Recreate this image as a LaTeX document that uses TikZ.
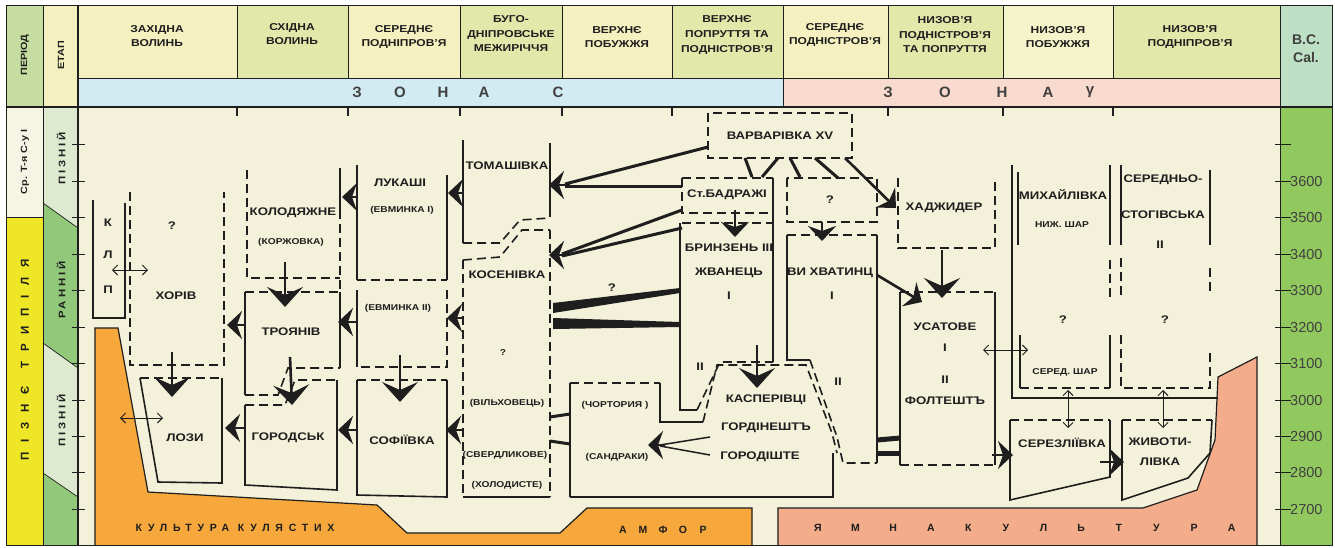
\documentclass[tikz,border=0pt]{standalone}
\usepackage{fontspec}
\setmainfont{Liberation Sans}
\newfontfamily\widefont[FakeStretch=1.2]{Liberation Sans}
\usetikzlibrary{arrows.meta}
\definecolor{ink}{RGB}{30,30,30}
\definecolor{bodybg}{RGB}{244,241,218}
\definecolor{hdra}{RGB}{244,240,191}
\definecolor{hdrb}{RGB}{226,232,170}
\definecolor{hdrc}{RGB}{245,243,202}
\definecolor{zonec}{RGB}{210,234,242}
\definecolor{zoneg}{RGB}{248,218,206}
\definecolor{perhd}{RGB}{198,220,160}
\definecolor{paleyel}{RGB}{246,244,226}
\definecolor{trypil}{RGB}{240,230,40}
\definecolor{etlight}{RGB}{222,234,208}
\definecolor{etgreen}{RGB}{146,200,122}
\definecolor{bchd}{RGB}{190,224,196}
\definecolor{bcgreen}{RGB}{146,201,95}
\definecolor{kulorange}{RGB}{246,168,60}
\definecolor{yampink}{RGB}{244,173,138}

\begin{document}
\begin{tikzpicture}[x=1pt, y=-1pt,
    frame/.style={draw=ink, line width=1pt},
    sol/.style={draw=ink, line width=1.6pt},
    dsh/.style={sol, dash pattern=on 9pt off 5pt},
    lbl/.style={inner sep=0pt, text=ink, font=\widefont\bfseries\fontsize{11}{12}\selectfont},
    sml/.style={lbl, font=\widefont\bfseries\fontsize{8.5}{10}\selectfont},
    hdr/.style={lbl, align=center, font=\widefont\bfseries\fontsize{10}{14.5}\selectfont},
    zl/.style={lbl, font=\bfseries\fontsize{15}{16}\selectfont, text=ink!85},
    yl/.style={lbl, font=\bfseries\fontsize{10.5}{12}\selectfont},
    num/.style={lbl, font=\fontsize{14.5}{15}\selectfont, text=ink!85},
    vert/.style={lbl, rotate=90, font=\widefont\bfseries\fontsize{9}{10}\selectfont},
    arr/.style={draw=ink, line width=2.6pt, -{Stealth[length=15pt,width=28pt,inset=5pt]}},
    bigarr/.style={arr, -{Stealth[length=20pt,width=36pt,inset=8pt]}},
    bar/.style={draw=ink, line width=3pt},
    dbl/.style={draw=ink, line width=0.9pt, {Straight Barb[length=5pt,width=10pt]}-{Straight Barb[length=5pt,width=10pt]}}
]
\useasboundingbox (0,0) rectangle (1335,547);

\fill[bodybg] (78,107) rectangle (1280,545);
\fill[perhd] (6,5) rectangle (43,107);
\fill[hdra] (43,5) rectangle (78,107);
\fill[paleyel] (6,107) rectangle (43,217);
\fill[trypil] (6,217) rectangle (43,545);
\fill[etlight] (43,107) rectangle (78,545);
\fill[etgreen] (43,203) -- (78,228) -- (78,368) -- (43,343) -- cycle;
\fill[etgreen] (43,473) -- (78,497) -- (78,545) -- (43,545) -- cycle;
\foreach \xa/\xb/\c in {78/237/hdra,237/348/hdrb,348/460/hdra,460/562/hdrb,562/672/hdra,
    672/783/hdrb,783/888/hdra,888/1003/hdrb,1003/1113/hdrc,1113/1280/hdrb}
  \fill[\c] (\xa,5) rectangle (\xb,78);
\fill[zonec] (78,78) rectangle (783,107);
\fill[zoneg] (783,78) rectangle (1280,107);
\fill[bchd] (1280,5) rectangle (1332,107);
\fill[bcgreen] (1280,107) rectangle (1332,545);

\filldraw[fill=kulorange, draw=ink, line width=1.2pt] (95,545) -- (95,328) -- (118,328) -- (148,492) -- (377,505)
  -- (407,533) -- (560,533) -- (587,508) -- (752,508) -- (752,545);
\filldraw[fill=yampink, draw=ink, line width=1.2pt] (778,545) -- (778,508) -- (1143,508) -- (1197,490) -- (1215,440)
  -- (1218,377) -- (1257,357) -- (1257,545);

\draw[frame] (6,5) rectangle (1332,545);
\foreach \x in {237,348,460,562,672,783,888,1003,1113} \draw[frame] (\x,5) -- (\x,78);
\draw[frame] (78,78) -- (1280,78);
\draw[frame] (783,78) -- (783,107);
\draw[ink, line width=1.6pt] (6,107) -- (1332,107);
\draw[frame] (43,5) -- (43,545);
\draw[ink, line width=1.6pt] (78,5) -- (78,545);
\draw[frame] (1280,5) -- (1280,545);
\draw[frame] (6,217) -- (43,217);
\draw[frame, line width=0.7pt] (43,203) -- (78,228);
\draw[frame, line width=0.7pt] (43,343) -- (78,368);
\draw[frame, line width=0.7pt] (43,473) -- (78,497);
\foreach \x in {237,348,460,562,672,888,1003,1113} \draw[ink, line width=1.2pt] (\x,107) -- (\x,116);
\foreach \v in {3700,3600,...,2700} {
  \draw[ink, line width=1pt] (72,{400+(3000-\v)*0.3645}) -- (85,{400+(3000-\v)*0.3645});
  \draw[ink, line width=1pt] (1275,{400+(3000-\v)*0.3645}) -- (1291,{400+(3000-\v)*0.3645});
}
\foreach \v in {3600,3500,...,2700}
  \node[num, anchor=west] (s\v) at (1290,{400+(3000-\v)*0.3645}) {\v};

\draw[sol] (93,200) -- (93,318) -- (125,318) -- (125,203);
\draw[dsh] (130,192) -- (130,365) -- (224,365) -- (224,192);
\draw[sol] (140,378) -- (158,482) -- (222,483) -- (222,378);
\draw[dsh] (140,378) -- (222,378);

\draw[dsh] (247,170) -- (247,278) -- (340,278);
\draw[sol] (340,168) -- (340,210);
\draw[dsh] (340,210) -- (340,292);
\draw[dsh] (245,292) -- (340,292);
\draw[sol] (245,292) -- (245,395);
\draw[sol] (340,292) -- (340,368);
\draw[dsh] (245,395) -- (278,395) -- (288,368) -- (340,368);
\draw[dsh] (245,405) -- (285,405) -- (295,380) -- (337,380);
\draw[sol] (245,405) -- (245,485) -- (337,490) -- (337,380);

\draw[sol] (357,165) -- (357,280);
\draw[sol] (447,175) -- (447,280);
\draw[dsh] (357,280) -- (447,280);
\draw[sol] (357,290) -- (357,367);
\draw[dsh] (447,290) -- (447,367) -- (357,367);
\draw[dsh] (357,380) -- (447,380);
\draw[sol] (357,380) -- (357,495) -- (447,497) -- (447,380);

\draw[sol] (463,140) -- (463,243);
\draw[sol] (550,143) -- (550,217);
\draw[dsh] (463,243) -- (500,243) -- (520,220) -- (550,218);
\draw[dsh] (463,260) -- (500,257) -- (522,230) -- (550,230);
\draw[dsh] (463,260) -- (463,497);
\draw[sol] (463,497) -- (550,497);
\draw[dsh] (550,230) -- (550,497);

\draw[dsh] (708,113) rectangle (852,158);
\draw[dsh] (682,178) -- (773,178);
\draw[dsh] (682,178) -- (682,213) -- (773,213);
\draw[dsh] (787,178) rectangle (877,222);
\draw[dsh] (682,223) -- (773,223);
\draw[sol] (773,178) -- (773,362);
\draw[sol] (680,223) -- (680,410) -- (697,410);
\draw[dsh] (697,410) -- (720,362) -- (773,362);
\draw[dsh] (787,235) -- (877,235);
\draw[sol] (787,235) -- (787,360) -- (810,360);
\draw[dsh] (810,360) -- (837,437) -- (843,463) -- (877,463);
\draw[sol] (877,235) -- (877,463);

\draw[sol] (570,497) -- (570,383);
\draw[dsh] (570,383) -- (660,383);
\draw[sol] (660,383) -- (660,422) -- (703,422);
\draw[dsh] (703,422) -- (717,365) -- (806,365) -- (832,433) -- (837,453);
\draw[sol] (833,453) -- (833,497) -- (570,497);

\draw[dsh] (898,178) -- (898,248) -- (995,248) -- (995,178);
\draw[dsh] (900,292) -- (995,292);
\draw[sol] (900,292) -- (900,465);
\draw[sol] (995,292) -- (995,465);
\draw[dsh] (900,465) -- (995,465);

\draw[sol] (1012,165) -- (1012,398) -- (1218,398);
\draw[sol] (1018,172) -- (1018,245);
\draw[sol] (1110,165) -- (1110,245);
\draw[dsh] (1110,260) -- (1110,300);
\draw[sol] (1020,335) -- (1020,388);
\draw[dsh] (1020,388) -- (1110,388);
\draw[sol] (1110,335) -- (1110,388);
\draw[sol] (1121,165) -- (1121,245);
\draw[dsh] (1121,258) -- (1121,295);
\draw[sol] (1210,170) -- (1210,245);
\draw[dsh] (1210,268) -- (1210,295);
\draw[dsh] (1121,335) -- (1121,388) -- (1210,388) -- (1210,350);
\draw[dsh] (1010,420) -- (1110,420);
\draw[sol] (1010,420) -- (1010,500) -- (1110,477) -- (1110,420);
\draw[dsh] (1122,420) -- (1212,420);
\draw[sol] (1122,420) -- (1122,500) -- (1188,478) -- (1210,453) -- (1212,420);

\draw[bar] (708,147) -- (565,184);
\draw[bar] (682,186) -- (565,186);
\draw[arr] (570,185) -- (549,185);
\draw[bar] (682,210) -- (562,254);
\draw[bar] (682,228) -- (562,256);
\draw[arr] (566,255) -- (549,255);
\fill[ink] (680,288) -- (553,303) -- (553,313) -- (680,293) -- cycle;
\fill[ink] (680,322) -- (553,318) -- (553,329) -- (680,327) -- cycle;
\draw[arr] (463,193) -- (448,193);
\draw[arr] (463,318) -- (447,318);
\draw[arr] (463,430) -- (446,430);
\draw[arr] (357,197) -- (342,197);
\draw[arr] (357,322) -- (338,322);
\draw[arr] (357,430) -- (338,430);
\draw[arr] (245,325) -- (227,325);
\draw[arr] (245,428) -- (225,428);
\draw[bigarr] (285,262) -- (285,307);
\draw[bigarr] (172,352) -- (172,397);
\draw[bigarr] (290,357) -- (292,405);
\draw[bigarr] (400,355) -- (400,402);
\draw[bigarr] (757,345) -- (757,388);
\draw[bar] (745,158) -- (752,177);
\draw[bar] (778,158) -- (762,177);
\draw[bar] (790,158) -- (800,177);
\draw[bar] (815,158) -- (838,178);
\draw[arr] (845,158) -- (896,208);
\draw[arr] (735,210) -- (735,237);
\draw[arr] (822,222) -- (822,241);
\draw[arr] (877,275) -- (922,302);
\draw[bigarr] (942,250) -- (942,298);
\draw[bar, line width=5pt] (877,440) -- (900,438);
\draw[bar, line width=5pt] (877,453) -- (900,453);
\draw[arr] (992,455) -- (1013,455);
\draw[arr] (1100,462) -- (1124,462);
\draw[draw=ink, line width=1.5pt] (710,437) -- (660,445);
\draw[draw=ink, line width=1.5pt] (710,455) -- (660,446);
\draw[arr] (665,445) -- (648,445);
\draw[bar] (550,417) -- (570,414);
\draw[bar] (550,441) -- (570,444);
\draw[dbl] (112,270) -- (148,270);
\draw[dbl] (120,418) -- (163,418);
\draw[dbl] (983,350) -- (1028,350);
\draw[dbl] (1068,390) -- (1068,428);
\draw[dbl] (1163,390) -- (1163,428);

\node[hdr] (h1) at (157,36) {ЗАХІДНА\\ВОЛИНЬ};
\node[hdr] (h2) at (292,34) {СХІДНА\\ВОЛИНЬ};
\node[hdr] (h3) at (404,37) {СЕРЕДНЄ\\ПОДНІПРОВ’Я};
\node[hdr] (h4) at (511,34) {БУГО-\\ДНІПРОВСЬКЕ\\МЕЖИРІЧЧЯ};
\node[hdr] (h5) at (617,37) {ВЕРХНЄ\\ПОБУЖЖЯ};
\node[hdr] (h6) at (727,35) {ВЕРХНЄ\\ПОПРУТТЯ ТА\\ПОДНІСТРОВ’Я};
\node[hdr] (h7) at (835,35) {СЕРЕДНЄ\\ПОДНІСТРОВ’Я};
\node[hdr] (h8) at (945,35) {НИЗОВ’Я\\ПОДНІСТРОВ’Я\\ТА ПОПРУТТЯ};
\node[hdr] (h9) at (1058,37) {НИЗОВ’Я\\ПОБУЖЖЯ};
\node[hdr] (h10) at (1190,37) {НИЗОВ’Я\\ПОДНІПРОВ’Я};
\node[lbl, align=center, font=\bfseries\fontsize{14}{18}\selectfont, text=ink!85] (bc) at (1306,49) {B.C.\\Cal.};

\foreach \c/\x in {З/357,О/400,Н/443,А/484,С/558} \node[zl] (zc\c) at (\x,92) {\c};
\foreach \c/\x [count=\i] in {З/888,О/945,Н/1002,А/1048,γ/1090} \node[zl] (zg\i) at (\x,92) {\c};

\node[vert] (per) at (25,55) {ПЕРІОД};
\node[vert] (etp) at (61,55) {ЕТАП};
\node[vert] (srt) at (25,162) {Ср. Т-я С-у І};
\node[vert, font=\bfseries\fontsize{11.5}{12}\selectfont\addfontfeatures{LetterSpace=85}] (tryp) at (25,360) {ПІЗНЄ\hspace{18pt}ТРИПІЛЯ};
\node[vert, font=\widefont\bfseries\fontsize{9.5}{10}\selectfont\addfontfeatures{LetterSpace=30}] (et1) at (61,158) {ПІЗНІЙ};
\node[vert, font=\widefont\bfseries\fontsize{9.5}{10}\selectfont\addfontfeatures{LetterSpace=30}] (et2) at (61,290) {РАННІЙ};
\node[vert, font=\widefont\bfseries\fontsize{9.5}{10}\selectfont\addfontfeatures{LetterSpace=30}] (et3) at (61,420) {ПІЗНІЙ};

\node[lbl] (k1) at (108,223) {К};
\node[lbl] (k2) at (108,255) {Л};
\node[lbl] (k3) at (108,290) {П};
\node[lbl] (hq) at (172,226) {?};
\node[lbl] (hor) at (176,296) {ХОРІВ};
\node[lbl] (loz) at (185,438) {ЛОЗИ};
\node[lbl] (kol) at (293,213) {КОЛОДЯЖНЕ};
\node[sml] (kor) at (291,242) {(КОРЖОВКА)};
\node[lbl] (tro) at (291,332) {ТРОЯНІВ};
\node[lbl] (gor) at (288,438) {ГОРОДСЬК};
\node[lbl] (luk) at (400,183) {ЛУКАШІ};
\node[sml] (ev1) at (402,210) {(ЕВМИНКА І)};
\node[sml] (ev2) at (398,308) {(ЕВМИНКА ІІ)};
\node[lbl] (sof) at (402,440) {СОФІЇВКА};
\node[lbl] (tom) at (507,166) {ТОМАШІВКА};
\node[lbl] (kos) at (507,275) {КОСЕНІВКА};
\node[sml] (bq) at (503,353) {?};
\node[sml] (vil) at (507,403) {(ВІЛЬХОВЕЦЬ)};
\node[sml] (sve) at (505,455) {(СВЕРДЛИКОВЕ)};
\node[sml] (hol) at (507,485) {(ХОЛОДИСТЕ)};
\node[sml] (chor) at (615,405) {(ЧОРТОРИЯ )};
\node[sml] (san) at (617,457) {(САНДРАКИ)};
\node[lbl] (wq) at (612,288) {?};
\node[lbl] (var) at (780,136) {ВАРВАРІВКА XV};
\node[lbl] (bad) at (727,195) {Ст.БАДРАЖІ};
\node[lbl] (q2) at (830,200) {?};
\node[lbl] (bry) at (729,248) {БРИНЗЕНЬ ІІІ};
\node[lbl] (zhv) at (729,273) {ЖВАНЕЦЬ};
\node[lbl] (r1) at (729,296) {І};
\node[lbl] (r2) at (700,367) {ІІ};
\node[lbl] (vyh) at (830,273) {ВИ ХВАТИНЦ};
\node[lbl] (v1) at (832,296) {І};
\node[lbl] (v2) at (838,382) {ІІ};
\node[lbl] (kas) at (766,400) {КАСПЕРІВЦІ};
\node[lbl] (grd) at (766,428) {ГОРДІНЕШТЪ};
\node[lbl] (grs) at (760,457) {ГОРОДІШТЕ};
\node[lbl] (had) at (944,208) {ХАДЖИДЕР};
\node[lbl] (usa) at (945,327) {УСАТОВЕ};
\node[lbl] (u1) at (945,348) {І};
\node[lbl] (u2) at (945,380) {ІІ};
\node[lbl] (fol) at (945,401) {ФОЛТЕШТЪ};
\node[lbl] (myh) at (1063,195) {МИХАЙЛІВКА};
\node[sml] (nyz) at (1062,225) {НИЖ. ШАР};
\node[lbl] (mq) at (1063,320) {?};
\node[sml] (ser) at (1065,372) {СЕРЕД. ШАР};
\node[lbl] (st1) at (1163,180) {СЕРЕДНЬО-};
\node[lbl] (st2) at (1163,215) {СТОГІВСЬКА};
\node[lbl] (st3) at (1160,245) {ІІ};
\node[lbl] (sq) at (1165,320) {?};
\node[lbl] (srz) at (1062,443) {СЕРЕЗЛІЇВКА};
\node[lbl, align=center, font=\widefont\bfseries\fontsize{11}{20}\selectfont] (zhy) at (1160,452) {ЖИВОТИ-\\ЛІВКА};

\node[yl, font=\bfseries\fontsize{10.5}{12}\selectfont\addfontfeatures{LetterSpace=55}] (kul) at (235,528) {КУЛЬТУРА КУЛЯСТИХ};
\foreach \c [count=\i from 0] in {А,М,Ф,О,Р} \node[yl] (am\i) at ({623+20*\i},530) {\c};
\foreach \c [count=\i from 0] in {Я,М,Н,А,К,У,Л,Ь,Т,У,Р,А} \node[yl] (ym\i) at ({818+37.6*\i},528) {\c};
\end{tikzpicture}
\end{document}
